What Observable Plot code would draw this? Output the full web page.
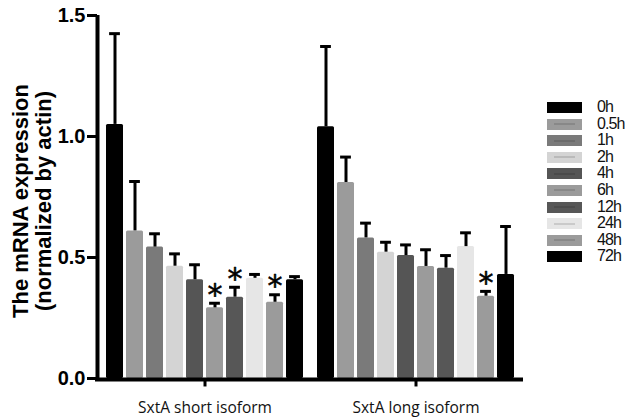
<!DOCTYPE html>
<html>
<head>
<meta charset="utf-8">
<script src="https://cdn.jsdelivr.net/npm/d3@7"></script>
<script src="https://cdn.jsdelivr.net/npm/@observablehq/plot@0.6"></script>
<style>
  html, body { margin: 0; padding: 0; background: #fff; }
  #wrap { position: relative; width: 630px; height: 420px; }
  #legend { position: absolute; left: 547px; top: 102px; font-family: "Liberation Sans", Arial, sans-serif; }
  .row { position: relative; height: 16.6px; }
  .sw { position: absolute; left: 0; top: 0; width: 35px; height: 11px; }
  .sw i { position: absolute; left: 7px; right: 7px; top: 4.5px; height: 2px; background: rgba(0,0,0,0.12); }
  .lb { position: absolute; left: 50px; top: -4px; font-size: 16px; letter-spacing: -0.9px; color: #111; white-space: nowrap; }
</style>
</head>
<body>
<div id="wrap"><div id="chart"></div><div id="legend"></div></div>
<script>
// ---- data ----
const groups = ["SxtA short isoform", "SxtA long isoform"];
const times = ["0h", "0.5h", "1h", "2h", "4h", "6h", "12h", "24h", "48h", "72h"];
const colors = ["#000000", "#9b9b9b", "#7a7a7a", "#d4d4d4", "#555555", "#9b9b9b", "#575757", "#e6e6e6", "#9b9b9b", "#000000"];
const shortMean = [1.05, 0.61, 0.543, 0.464, 0.408, 0.292, 0.336, 0.414, 0.315, 0.408];
const shortErr  = [1.425, 0.814, 0.598, 0.515, 0.47, 0.311, 0.377, 0.43, 0.346, 0.421];
const longMean  = [1.04, 0.81, 0.581, 0.522, 0.508, 0.463, 0.456, 0.545, 0.34, 0.43];
const longErr   = [1.372, 0.915, 0.642, 0.563, 0.552, 0.532, 0.508, 0.602, 0.36, 0.628];
const shortSig  = ["6h", "12h", "48h"];
const longSig   = ["48h"];
const yTicks = [0, 0.5, 1.0, 1.5];
const yTitle = "The mRNA expression\n(normalized by actin)";

// ---- layout (slot units) ----
const groupOffset = 10.55, barW = 0.85;
const xmin = -0.45, xmax = 20.85;
const rows = [];
[[shortMean, shortErr, shortSig], [longMean, longErr, longSig]].forEach(([m, e, s], g) => {
  times.forEach((t, i) => {
    const x1 = g * groupOffset + i;
    rows.push({group: groups[g], time: t, value: m[i], err: e[i], sig: s.includes(t),
               x1, x2: x1 + barW, xc: x1 + barW / 2});
  });
});
const groupCenters = groups.map((name, g) => ({name, xc: g * groupOffset + (times.length - 1 + barW) / 2}));

const chart = Plot.plot({
  width: 630, height: 420,
  marginLeft: 97, marginRight: 107, marginTop: 15, marginBottom: 42,
  x: {type: "linear", domain: [xmin, xmax], axis: null},
  y: {domain: [0, 1.5], axis: null},
  color: {domain: times, range: colors},
  style: {fontFamily: "'Liberation Sans', Arial, sans-serif", background: "#fff", color: "#000"},
  marks: [
    Plot.rectY(rows, {x1: "x1", x2: "x2", y1: 0, y2: "value", fill: "time", rx: 1.5}),
    Plot.ruleX(rows, {x: "xc", y1: "value", y2: "err", stroke: "#000", strokeWidth: 3}),
    Plot.ruleY(rows, {y: "err", x1: d => d.xc - 0.27, x2: d => d.xc + 0.27, stroke: "#000", strokeWidth: 3}),
    Plot.text(rows.filter(d => d.sig), {x: "xc", y: "err", text: () => "*", fontSize: 30, fontFamily: "'DejaVu Sans', sans-serif", fill: "#000", stroke: "#000", strokeWidth: 0.5, lineAnchor: "middle", dy: -8}),
    // y axis
    Plot.ruleX([xmin], {y1: 0, y2: 1.5, stroke: "#000", strokeWidth: 4}),
    Plot.ruleY(yTicks, {y: d => d, x1: xmin - 0.5, x2: xmin, stroke: "#000", strokeWidth: 3}),
    Plot.text(yTicks, {x: xmin, y: d => d, text: d => d.toFixed(1), dx: -12, textAnchor: "end", lineAnchor: "middle", fontSize: 20, fontWeight: "bold"}),
    Plot.text([yTitle], {frameAnchor: "left", text: d => d, rotate: -90, dx: -65, dy: 4, fontSize: 22, fontWeight: "bold", lineHeight: 1.05, textAnchor: "middle", lineAnchor: "middle"}),
    // x axis
    Plot.ruleY([0], {x1: xmin - 0.1, x2: xmax, stroke: "#000", strokeWidth: 4, dy: 1}),
    Plot.ruleX(groupCenters, {x: "xc", y1: 0, y2: -0.035, stroke: "#000", strokeWidth: 3}),
    Plot.text(groupCenters, {x: "xc", y: 0, text: "name", dy: 30, fontSize: 15.5, fontFamily: "'Open Sans', sans-serif", fill: "#111"})
  ]
});
document.getElementById("chart").appendChild(chart);

// legend
const lg = d3.select("#legend");
times.forEach((t, i) => {
  const r = lg.append("div").attr("class", "row");
  const sw = r.append("div").attr("class", "sw").style("background", colors[i]);
  if (colors[i] !== "#000000") sw.append("i");
  r.append("div").attr("class", "lb").text(t);
});
</script>
</body>
</html>
